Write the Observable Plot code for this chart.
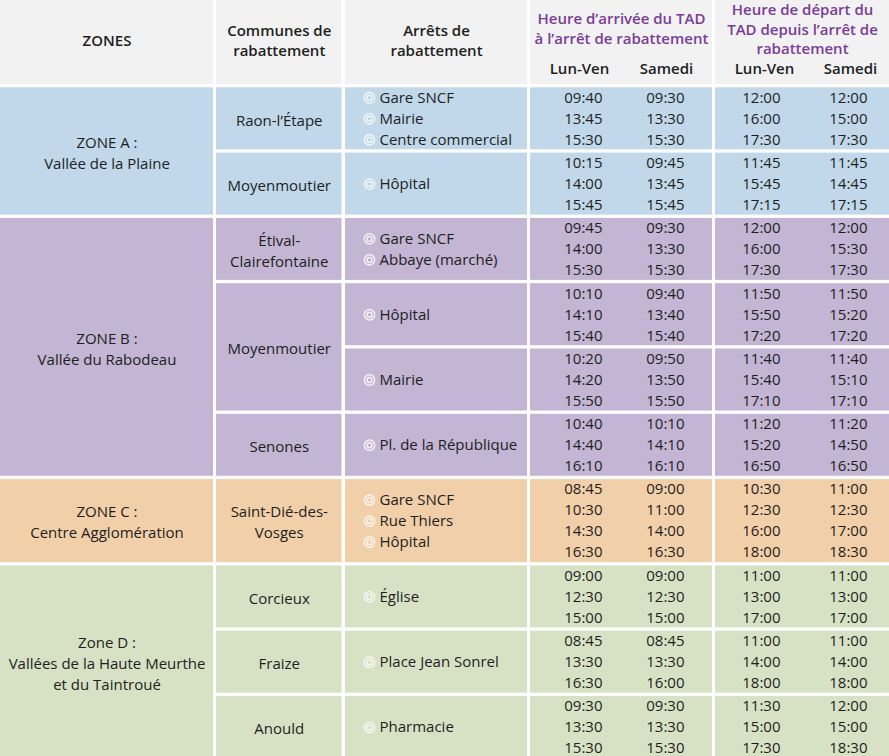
<!DOCTYPE html>
<html><head><meta charset="utf-8">
<script src="https://cdn.jsdelivr.net/npm/d3@7"></script>
<script src="https://cdn.jsdelivr.net/npm/@observablehq/plot@0.6"></script>
<style>body{margin:0;background:#fff} svg{display:block}</style>
</head><body><div id="chart"></div>
<script>
// ---------- DATA ----------
const headerCols = ["ZONES", "Communes de\nrabattement", "Arrêts de\nrabattement"];
const headerArrival = "Heure d’arrivée du TAD\nà l’arrêt de rabattement";
const headerDeparture = "Heure de départ du\nTAD depuis l’arrêt de\nrabattement";
const dayLabels = ["Lun-Ven", "Samedi"];

const zones = ["ZONE A :\nVallée de la Plaine", "ZONE B :\nVallée du Rabodeau", "ZONE C :\nCentre Agglomération", "Zone D :\nVallées de la Haute Meurthe\net du Taintroué"];
const zoneRowSpan = [2, 4, 1, 3];

const communes = ["Raon-l’Étape", "Moyenmoutier", "Étival-\nClairefontaine", "Moyenmoutier", "Senones", "Saint-Dié-des-\nVosges", "Corcieux", "Fraize", "Anould"];
const communeRowSpan = [1, 1, 1, 2, 1, 1, 1, 1, 1];

const stops = [
  ["Gare SNCF", "Mairie", "Centre commercial"],
  ["Hôpital"],
  ["Gare SNCF", "Abbaye (marché)"],
  ["Hôpital"],
  ["Mairie"],
  ["Pl. de la République"],
  ["Gare SNCF", "Rue Thiers", "Hôpital"],
  ["Église"],
  ["Place Jean Sonrel"],
  ["Pharmacie"]
];

const arrLunVen = [
  ["09:40","13:45","15:30"], ["10:15","14:00","15:45"], ["09:45","14:00","15:30"],
  ["10:10","14:10","15:40"], ["10:20","14:20","15:50"], ["10:40","14:40","16:10"],
  ["08:45","10:30","14:30","16:30"], ["09:00","12:30","15:00"], ["08:45","13:30","16:30"],
  ["09:30","13:30","15:30"]
];
const arrSamedi = [
  ["09:30","13:30","15:30"], ["09:45","13:45","15:45"], ["09:30","13:30","15:30"],
  ["09:40","13:40","15:40"], ["09:50","13:50","15:50"], ["10:10","14:10","16:10"],
  ["09:00","11:00","14:00","16:30"], ["09:00","12:30","15:00"], ["08:45","13:30","16:00"],
  ["09:30","13:30","15:30"]
];
const depLunVen = [
  ["12:00","16:00","17:30"], ["11:45","15:45","17:15"], ["12:00","16:00","17:30"],
  ["11:50","15:50","17:20"], ["11:40","15:40","17:10"], ["11:20","15:20","16:50"],
  ["10:30","12:30","16:00","18:00"], ["11:00","13:00","17:00"], ["11:00","14:00","18:00"],
  ["11:30","15:00","17:30"]
];
const depSamedi = [
  ["12:00","15:00","17:30"], ["11:45","14:45","17:15"], ["12:00","15:30","17:30"],
  ["11:50","15:20","17:20"], ["11:40","15:10","17:10"], ["11:20","14:50","16:50"],
  ["11:00","12:30","17:00","18:30"], ["11:00","13:00","17:00"], ["11:00","14:00","18:00"],
  ["12:00","15:00","18:30"]
];

// ---------- STYLE / LAYOUT ----------
const zoneFill = ["#c0d8e9", "#c3b5d3", "#f1cfa8", "#d7e2c5"];
const headerFill = "#f2f2f2";
const ink = "#1e1e1e";
const purple = "#7a3c98";
const W = 889, H = 756;
const cols = [[0, 213], [216, 341.5], [345, 527], [530, 712], [715, 889]];
const timeAnchors = [[602, 684], [780, 867]]; // right edges of sub-columns
const dayCenters = [[579, 666], [764, 850]];
const headerH = 84, gap = 3.3, lineH = 21, fs = 15;

// row geometry from line counts
const nRows = stops.length;
const rowLines = d3.range(nRows).map(i => Math.max(arrLunVen[i].length, stops[i].length));
const rowTop = [], rowBot = [];
let yy = headerH + gap;
for (let i = 0; i < nRows; i++) {
  rowTop.push(yy);
  rowBot.push(yy + lineH * rowLines[i] - 1);
  yy = rowBot[i] + gap;
}
const rowZone = [];
zoneRowSpan.forEach((n, z) => { for (let k = 0; k < n; k++) rowZone.push(z); });

// ---------- CELLS ----------
const cells = [];
cols.forEach(c => cells.push({x1: c[0], x2: c[1], y1: 0, y2: headerH, fill: headerFill}));
let r = 0;
const zoneText = [];
zones.forEach((z, i) => {
  const a = r, b = r + zoneRowSpan[i] - 1;
  cells.push({x1: cols[0][0], x2: cols[0][1], y1: rowTop[a], y2: rowBot[b], fill: zoneFill[i]});
  zoneText.push({x: (cols[0][0] + cols[0][1]) / 2, y: (rowTop[a] + rowBot[b]) / 2, t: z});
  r += zoneRowSpan[i];
});
r = 0;
const communeText = [];
communes.forEach((c, i) => {
  const a = r, b = r + communeRowSpan[i] - 1;
  cells.push({x1: cols[1][0], x2: cols[1][1], y1: rowTop[a], y2: rowBot[b], fill: zoneFill[rowZone[a]]});
  communeText.push({x: (cols[1][0] + cols[1][1]) / 2, y: (rowTop[a] + rowBot[b]) / 2, t: c});
  r += communeRowSpan[i];
});
const stopText = [], stopIcons = [], timeText = [];
for (let i = 0; i < nRows; i++) {
  const f = zoneFill[rowZone[i]];
  const cy = (rowTop[i] + rowBot[i]) / 2;
  for (let c = 2; c < 5; c++) cells.push({x1: cols[c][0], x2: cols[c][1], y1: rowTop[i], y2: rowBot[i], fill: f});
  stops[i].forEach((s, k) => {
    const y = cy + (k - (stops[i].length - 1) / 2) * lineH;
    stopText.push({x: cols[2][0] + 34, y, t: s});
    stopIcons.push({x: cols[2][0] + 24, y});
  });
  [[arrLunVen, arrSamedi], [depLunVen, depSamedi]].forEach((pair, g) => {
    pair.forEach((arr, d) => {
      arr[i].forEach((t, k) => {
        timeText.push({x: timeAnchors[g][d], y: cy + (k - (arr[i].length - 1) / 2) * lineH, t});
      });
    });
  });
}

const headerText = [
  {x: (cols[0][0] + cols[0][1]) / 2, y: 39, t: headerCols[0]},
  {x: (cols[1][0] + cols[1][1]) / 2, y: 39, t: headerCols[1]},
  {x: (cols[2][0] + cols[2][1]) / 2, y: 39, t: headerCols[2]}
];
dayCenters.forEach(g => g.forEach((x, d) => headerText.push({x, y: 67, t: dayLabels[d]})));
const purpleText = [
  {x: (cols[3][0] + cols[3][1]) / 2, y: 27, t: headerArrival},
  {x: (cols[4][0] + cols[4][1]) / 2, y: 28, t: headerDeparture}
];

const chart = Plot.plot({
  width: W, height: H, margin: 0,
  x: {type: "identity", axis: null},
  y: {type: "identity", axis: null},
  color: {type: "identity"},
  style: {fontFamily: "'Open Sans', 'Noto Sans', sans-serif", background: "#fff"},
  marks: [
    Plot.rect(cells, {x1: "x1", x2: "x2", y1: "y1", y2: "y2", fill: "fill"}),
    Plot.text(headerText, {x: "x", y: "y", text: "t", fontSize: fs, fontWeight: 600, fill: ink, lineHeight: 20 / fs}),
    Plot.text(purpleText, {x: "x", y: "y", text: "t", fontSize: fs, fontWeight: 600, fill: purple, lineHeight: 19.5 / fs}),
    Plot.text(zoneText, {x: "x", y: "y", text: "t", fontSize: fs, fill: ink, lineHeight: lineH / fs}),
    Plot.text(communeText, {x: "x", y: "y", text: "t", fontSize: fs, fill: ink, lineHeight: lineH / fs}),
    Plot.dot(stopIcons, {x: "x", y: "y", r: 5.2, stroke: "#fafafa", strokeWidth: 1.5, fill: "none", strokeOpacity: 0.9}),
    Plot.dot(stopIcons, {x: "x", y: "y", r: 2.5, stroke: "#fafafa", strokeWidth: 1.4, fill: "none", strokeOpacity: 0.9}),
    Plot.text(stopText, {x: "x", y: "y", text: "t", textAnchor: "start", fontSize: fs, fill: ink}),
    Plot.text(timeText, {x: "x", y: "y", text: "t", textAnchor: "end", fontSize: fs, fill: ink})
  ]
});
document.getElementById("chart").appendChild(chart);
</script>
</body></html>
